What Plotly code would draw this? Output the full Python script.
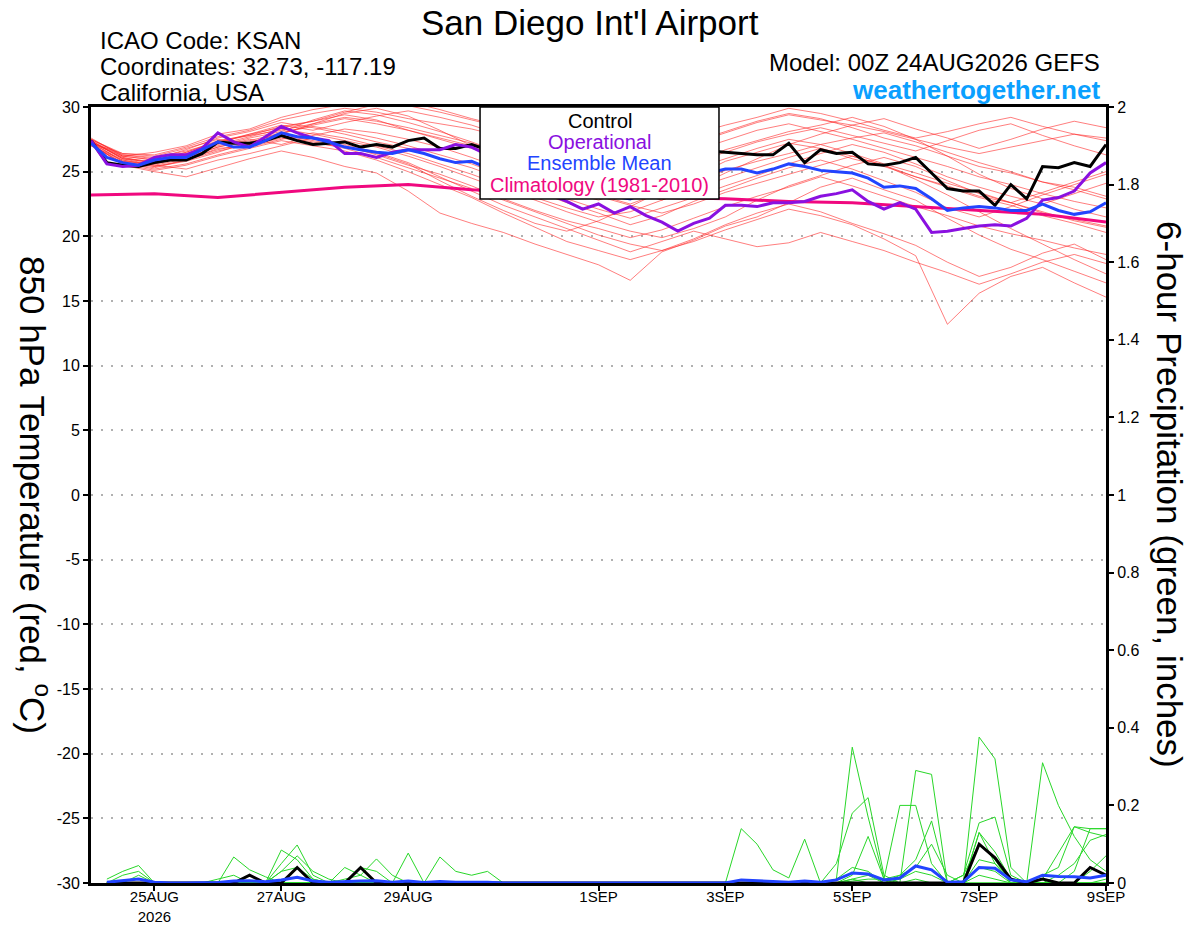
import pandas as pd
import plotly.graph_objects as go

FONT = "Liberation Sans"

# time axes
t6 = pd.date_range("2026-08-24 00:00", periods=65, freq="6h")      # temperature, 6-hourly
t12 = pd.date_range("2026-08-24 00:00", periods=33, freq="12h")    # ensemble members, 12-hourly
tp = pd.date_range("2026-08-24 06:00", periods=64, freq="6h")      # 6-hour precip
tclim = pd.date_range("2026-08-24 00:00", periods=17, freq="D")    # climatology, daily

tick_dates = ["2026-08-25", "2026-08-27", "2026-08-29", "2026-09-01",
              "2026-09-03", "2026-09-05", "2026-09-07", "2026-09-09"]
tick_labels = ["25AUG<br>2026", "27AUG", "29AUG", "1SEP", "3SEP", "5SEP", "7SEP", "9SEP"]

# 850 hPa temperature (C)
control_t = [27.4, 25.7, 25.5, 25.4, 25.7, 25.9, 25.9, 26.4, 27.3, 27.2, 27.2, 27.4, 27.8,
             27.4, 27.1, 27.2, 27.3, 26.9, 27.1, 26.9, 27.4, 27.6, 26.8, 26.8, 27.1, 26.7,
             26.9, 27.0, 27.2, 26.8, 26.6, 26.9, 27.1, 26.7, 26.4, 26.6, 26.8, 26.5, 26.7, 26.6,
             26.5, 26.4, 26.3, 26.3, 27.2, 25.7, 26.7, 26.4, 26.5, 25.6, 25.5, 25.7, 26.1,
             24.9, 23.7, 23.5, 23.5, 22.4, 24.0, 22.9, 25.4, 25.3, 25.7, 25.4, 27.1]
oper_t = [27.4, 25.6, 25.4, 25.5, 26.1, 26.3, 26.3, 26.8, 28.0, 27.3, 26.9, 27.7, 28.5,
          28.0, 27.6, 27.4, 26.4, 26.4, 26.1, 26.5, 26.7, 26.7, 26.7, 27.1, 26.9, 26.3,
          25.5, 24.6, 23.8, 23.2, 22.7, 22.1, 22.5, 21.8, 22.3, 21.6, 21.1, 20.4, 21.0, 21.4,
          22.4, 22.4, 22.3, 22.6, 22.6, 22.7, 23.1, 23.3, 23.6, 22.7, 22.1, 22.6, 22.1,
          20.3, 20.4, 20.6, 20.8, 20.9, 20.8, 21.4, 22.8, 23.0, 23.5, 24.9, 25.7]
mean_t = [27.2, 26.1, 25.7, 25.5, 25.9, 26.1, 26.1, 26.7, 27.3, 26.9, 26.9, 27.4, 28.0,
          27.7, 27.6, 27.3, 26.9, 26.7, 26.5, 26.4, 26.7, 26.4, 26.0, 25.7, 25.8, 25.3,
          24.8, 24.5, 24.2, 24.0, 23.8, 23.5, 23.3, 23.1, 22.9, 23.4, 23.9, 24.3, 24.6, 24.9,
          25.2, 25.2, 24.9, 25.2, 25.6, 25.4, 25.1, 25.0, 24.9, 24.5, 23.8, 23.9, 23.7,
          22.9, 22.0, 22.2, 22.3, 22.2, 22.0, 22.0, 22.5, 22.0, 21.7, 21.9, 22.6]
clim_t = [23.2, 23.3, 23.0, 23.4, 23.8, 24.0, 23.6, 23.4, 23.2, 23.0, 22.9, 22.7, 22.6,
          22.3, 22.0, 21.7, 21.1]

members_t = [
    [27.3, 26.0, 25.8, 26.5, 27.4, 27.8, 28.5, 28.9, 29.4, 29.0, 28.2, 27.5, 26.8, 26.0, 24.8, 23.9, 23.2,
     22.5, 23.4, 24.6, 25.8, 26.5, 27.2, 26.8, 26.0, 25.4, 24.6, 23.8, 23.0, 22.4, 21.6, 21.0, 20.3],
    [27.1, 25.7, 25.3, 25.9, 26.8, 27.0, 27.6, 27.2, 26.9, 26.4, 25.6, 24.3, 23.1, 22.0, 21.0, 20.4, 21.2,
     22.3, 23.5, 24.2, 25.1, 25.8, 26.4, 27.1, 27.6, 28.0, 27.3, 26.5, 25.7, 25.0, 24.2, 23.6, 22.9],
    [27.4, 26.2, 26.5, 27.0, 27.9, 28.3, 29.2, 29.8, 30.2, 30.5, 30.1, 29.6, 29.0, 28.4, 27.9, 27.2, 26.5,
     25.8, 26.4, 27.3, 28.1, 28.9, 29.5, 29.1, 28.4, 27.6, 27.0, 26.2, 25.4, 24.9, 24.2, 23.8, 23.1],
    [27.2, 25.5, 25.0, 24.6, 25.3, 26.0, 26.6, 26.1, 25.4, 24.9, 23.5, 21.8, 21.0, 20.3, 19.4, 18.6, 17.8,
     16.6, 18.8, 19.7, 20.8, 21.5, 22.6, 23.8, 24.5, 23.6, 22.8, 21.4, 20.1, 19.0, 18.2, 17.3, 16.4],
    [27.3, 26.1, 25.6, 26.1, 26.9, 27.5, 27.1, 27.8, 28.3, 28.0, 27.5, 26.9, 26.1, 25.2, 24.3, 23.5, 22.8,
     23.6, 24.5, 25.6, 26.7, 27.4, 28.1, 28.6, 29.2, 28.5, 27.5, 26.2, 24.8, 23.7, 22.9, 22.1, 21.5],
    [27.5, 26.3, 26.0, 26.7, 27.6, 28.1, 28.8, 28.4, 27.9, 27.3, 26.8, 26.0, 25.3, 24.4, 23.5, 22.6, 21.8,
     20.9, 21.6, 22.7, 23.6, 24.5, 25.3, 25.9, 25.2, 24.3, 23.4, 22.2, 21.5, 22.3, 23.2, 24.0, 24.8],
    [27.0, 25.9, 25.4, 25.8, 26.5, 27.3, 27.9, 28.7, 29.5, 29.9, 29.3, 28.2, 27.0, 25.8, 24.7, 23.8, 23.1,
     22.4, 21.8, 22.5, 23.4, 24.1, 24.8, 25.5, 26.2, 25.5, 24.6, 23.9, 23.1, 22.6, 23.4, 24.2, 25.0],
    [27.4, 26.0, 25.5, 25.2, 25.9, 26.4, 27.0, 27.6, 27.1, 26.5, 25.7, 24.6, 23.5, 22.4, 21.5, 20.6, 19.7,
     18.8, 19.6, 20.4, 19.8, 19.2, 19.5, 20.3, 19.6, 18.9, 18.0, 17.2, 16.3, 17.1, 18.0, 18.6, 17.9],
    [27.2, 26.4, 26.2, 26.8, 27.5, 27.2, 28.0, 28.6, 29.1, 28.7, 28.2, 27.6, 27.0, 26.5, 26.0, 25.3, 24.7,
     24.1, 24.8, 25.7, 26.5, 27.3, 27.9, 28.4, 27.8, 27.2, 26.6, 27.4, 28.2, 28.7, 27.8, 27.0, 26.3],
    [27.3, 25.8, 25.6, 26.2, 27.1, 27.7, 28.3, 27.9, 27.4, 26.9, 26.2, 25.4, 24.5, 23.6, 22.8, 21.9, 21.1,
     20.4, 19.9, 20.6, 21.5, 22.8, 23.9, 24.7, 25.5, 26.1, 25.4, 24.3, 23.3, 22.6, 21.9, 21.2, 20.7],
    [27.6, 26.2, 25.9, 26.3, 27.0, 27.6, 28.1, 29.0, 29.7, 29.4, 28.8, 28.1, 27.3, 26.4, 25.6, 24.8, 24.1,
     23.5, 22.8, 23.7, 24.9, 26.0, 27.1, 27.9, 28.6, 29.1, 28.3, 27.6, 26.8, 27.5, 28.3, 28.9, 28.4],
    [27.1, 25.6, 25.1, 25.5, 26.2, 26.8, 27.4, 27.0, 26.6, 25.9, 25.0, 24.0, 23.0, 21.8, 20.7, 19.6, 18.9,
     18.2, 18.9, 19.8, 20.9, 21.8, 22.5, 21.9, 21.0, 20.2, 19.3, 18.0, 16.9, 17.6, 18.7, 19.4, 18.2],
    [27.3, 26.1, 25.7, 26.4, 27.2, 27.9, 28.6, 28.2, 28.8, 29.3, 29.7, 29.2, 28.6, 27.8, 27.1, 26.5, 25.9,
     25.2, 25.8, 26.6, 27.4, 28.2, 28.7, 28.1, 27.5, 26.8, 26.1, 25.4, 24.6, 24.0, 23.3, 22.7, 22.2],
    [27.2, 25.9, 25.5, 26.0, 26.7, 27.2, 27.8, 27.4, 27.0, 26.3, 25.5, 24.8, 23.9, 22.9, 22.0, 21.2, 20.6,
     19.9, 20.5, 21.4, 22.3, 23.1, 23.8, 24.6, 23.9, 23.1, 22.3, 21.6, 20.8, 20.2, 19.7, 19.1, 18.6],
    [27.5, 26.3, 26.1, 26.6, 27.3, 27.9, 28.4, 28.9, 29.6, 30.2, 30.4, 29.8, 29.1, 28.5, 28.9, 29.3, 28.7,
     28.0, 27.4, 27.9, 28.6, 29.2, 29.9, 29.5, 28.9, 28.2, 27.6, 28.1, 28.7, 29.2, 28.5, 27.9, 27.4],
    [27.0, 25.7, 25.2, 25.6, 26.3, 26.9, 27.5, 28.0, 27.6, 27.0, 26.4, 25.6, 24.8, 23.9, 23.0, 22.2, 21.5,
     21.9, 22.8, 23.7, 24.5, 25.3, 26.1, 26.8, 26.2, 25.5, 24.4, 23.2, 21.9, 20.6, 19.4, 18.2, 17.1],
    [27.4, 26.0, 25.7, 26.1, 26.9, 27.4, 28.0, 28.5, 28.1, 27.6, 27.0, 26.3, 25.6, 24.7, 23.8, 22.9, 22.1,
     21.4, 22.2, 23.0, 23.9, 24.7, 25.6, 26.4, 27.1, 26.5, 25.6, 24.6, 23.8, 23.1, 22.5, 23.3, 24.1],
    [27.3, 26.2, 25.9, 26.5, 27.3, 27.8, 28.2, 28.7, 29.2, 28.9, 28.4, 27.8, 27.2, 26.4, 25.6, 24.9, 24.2,
     23.7, 24.3, 25.2, 26.0, 26.8, 27.5, 27.1, 26.4, 25.6, 24.9, 24.1, 23.4, 22.6, 21.8, 21.3, 20.8],
    [27.2, 25.8, 25.4, 25.9, 26.6, 27.1, 27.7, 27.3, 26.8, 26.1, 25.3, 24.5, 23.7, 22.8, 21.9, 21.0, 20.1,
     19.4, 18.9, 19.6, 20.5, 21.3, 22.1, 21.6, 20.9, 19.8, 18.5, 13.2, 15.6, 16.9, 17.6, 16.4, 15.3],
    [27.5, 26.4, 26.3, 26.9, 27.7, 28.2, 29.0, 29.5, 29.9, 29.6, 29.1, 28.7, 28.3, 27.7, 27.1, 26.6, 26.2,
     25.7, 26.5, 27.2, 28.0, 28.8, 29.4, 29.0, 28.6, 28.1, 27.5, 26.9, 26.4, 26.9, 27.4, 27.9, 27.6],
]

# 6-hour precipitation (inches)
control_p = [0, 0, 0, 0, 0, 0, 0, 0,
             0, 0.02, 0, 0, 0.04, 0, 0, 0,
             0.04, 0, 0, 0, 0, 0, 0, 0,
             0, 0, 0, 0, 0, 0, 0, 0,
             0, 0, 0, 0, 0, 0, 0, 0,
             0, 0, 0, 0, 0, 0, 0, 0,
             0, 0, 0, 0, 0, 0, 0, 0.10,
             0.065, 0.01, 0, 0.01, 0, 0, 0.04, 0.02]
mean_p = [0.002, 0.006, 0.01, 0.002, 0, 0, 0, 0.001,
          0.005, 0.006, 0.003, 0.008, 0.015, 0.005, 0.002, 0.004,
          0.005, 0.006, 0.002, 0.005, 0.001, 0.004, 0.002, 0.002,
          0.002, 0, 0, 0, 0, 0, 0, 0,
          0, 0, 0, 0, 0, 0, 0, 0,
          0.008, 0.006, 0.003, 0.002, 0.005, 0.002, 0.008, 0.026,
          0.023, 0.008, 0.013, 0.044, 0.034, 0.002, 0.003, 0.04,
          0.038, 0.008, 0.003, 0.02, 0.017, 0.016, 0.013, 0.02]
members_p = [
    [0.01, 0.03, 0.045, 0, 0, 0, 0, 0,
     0.067, 0.034, 0.016, 0, 0, 0, 0, 0.04,
     0.02, 0, 0, 0, 0, 0, 0, 0,
     0, 0, 0, 0, 0, 0, 0, 0,
     0, 0, 0, 0, 0, 0, 0, 0,
     0.14, 0.10, 0.034, 0.013, 0.113, 0, 0, 0.01,
     0, 0, 0, 0, 0, 0, 0, 0,
     0, 0, 0, 0.01, 0.077, 0.145, 0.13, 0.12],
    [0, 0.02, 0.03, 0, 0, 0, 0, 0,
     0, 0, 0, 0.085, 0.06, 0.01, 0, 0,
     0, 0, 0, 0, 0, 0, 0, 0,
     0, 0, 0, 0, 0, 0, 0, 0,
     0, 0, 0, 0, 0, 0, 0, 0,
     0, 0, 0, 0, 0, 0, 0.01, 0.35,
     0.17, 0.01, 0, 0.01, 0, 0, 0, 0,
     0, 0, 0, 0, 0, 0.03, 0.14, 0.14],
    [0, 0, 0.02, 0, 0, 0, 0, 0,
     0, 0, 0, 0.05, 0.098, 0.02, 0, 0,
     0, 0, 0, 0, 0, 0, 0, 0,
     0, 0, 0, 0, 0, 0, 0, 0,
     0, 0, 0, 0, 0, 0, 0, 0,
     0, 0, 0, 0, 0, 0, 0.05, 0.18,
     0.22, 0.02, 0, 0, 0, 0, 0.02, 0.155,
     0.17, 0.02, 0, 0, 0, 0, 0, 0.01],
    [0, 0, 0, 0, 0, 0, 0, 0.01,
     0.02, 0, 0, 0.03, 0.07, 0.03, 0.01, 0,
     0.04, 0.03, 0, 0, 0, 0, 0, 0,
     0, 0, 0, 0, 0, 0, 0, 0,
     0, 0, 0, 0, 0, 0, 0, 0,
     0, 0, 0, 0, 0, 0, 0, 0.02,
     0.12, 0.01, 0.2, 0.2, 0.05, 0, 0, 0.13,
     0.08, 0.01, 0, 0, 0, 0, 0, 0],
    [0, 0, 0, 0, 0, 0, 0, 0,
     0, 0.02, 0, 0.03, 0.04, 0.01, 0, 0.01,
     0.02, 0.062, 0.02, 0, 0, 0, 0, 0,
     0, 0, 0, 0, 0, 0, 0, 0,
     0, 0, 0, 0, 0, 0, 0, 0,
     0, 0, 0, 0, 0, 0, 0, 0,
     0, 0, 0, 0.29, 0.28, 0, 0, 0.02,
     0.01, 0, 0, 0, 0, 0, 0, 0],
    [0, 0, 0, 0, 0, 0, 0, 0,
     0, 0, 0, 0, 0, 0, 0, 0,
     0, 0, 0, 0.077, 0, 0, 0, 0,
     0, 0, 0, 0, 0, 0, 0, 0,
     0, 0, 0, 0, 0, 0, 0, 0,
     0, 0, 0, 0, 0, 0, 0.01, 0.04,
     0.03, 0, 0.02, 0.06, 0.16, 0, 0, 0.13,
     0.05, 0, 0, 0, 0, 0, 0.03, 0.07],
    [0, 0, 0, 0, 0, 0, 0, 0,
     0, 0, 0, 0, 0, 0, 0, 0,
     0, 0, 0, 0, 0, 0.067, 0.03, 0.02,
     0.03, 0, 0, 0, 0, 0, 0, 0,
     0, 0, 0, 0, 0, 0, 0, 0,
     0, 0, 0, 0, 0, 0, 0, 0,
     0, 0, 0, 0, 0, 0, 0, 0.376,
     0.32, 0.04, 0, 0, 0, 0, 0, 0],
    [0, 0, 0, 0, 0, 0, 0, 0,
     0, 0, 0, 0, 0, 0, 0, 0,
     0, 0, 0, 0, 0, 0, 0, 0,
     0, 0, 0, 0, 0, 0, 0, 0,
     0, 0, 0, 0, 0, 0, 0, 0,
     0, 0, 0, 0, 0, 0, 0, 0,
     0, 0, 0, 0, 0, 0, 0.02, 0.1,
     0.06, 0, 0, 0.31, 0.2, 0.12, 0.06, 0.03],
    [0, 0, 0, 0, 0, 0, 0, 0,
     0, 0, 0, 0, 0, 0, 0, 0,
     0, 0, 0, 0, 0, 0, 0, 0,
     0, 0, 0, 0, 0, 0, 0, 0,
     0, 0, 0, 0, 0, 0, 0, 0,
     0, 0, 0, 0, 0, 0, 0, 0.01,
     0.02, 0, 0.01, 0.03, 0.02, 0, 0, 0.04,
     0.03, 0, 0, 0.02, 0.04, 0.145, 0.14, 0.14],
    [0, 0, 0, 0, 0, 0, 0, 0,
     0, 0, 0, 0, 0, 0, 0, 0,
     0, 0, 0, 0, 0, 0, 0, 0,
     0, 0, 0, 0, 0, 0, 0, 0,
     0, 0, 0, 0, 0, 0, 0, 0,
     0, 0, 0, 0, 0, 0, 0, 0.005,
     0.01, 0.01, 0.02, 0.04, 0.1, 0.02, 0, 0.06,
     0.05, 0.01, 0, 0, 0.02, 0.05, 0.11, 0.125],
]

RED = "rgba(255,40,40,0.6)"
GREEN = "rgb(40,215,40)"
PURPLE = "#8a10e0"
BLUE = "#2244ff"
PINK = "#f0087f"

fig = go.Figure()

for m in members_t:
    fig.add_trace(go.Scatter(x=t12, y=m, mode="lines", line=dict(color=RED, width=1)))
for m in members_p:
    fig.add_trace(go.Scatter(x=tp, y=m, yaxis="y2", mode="lines", line=dict(color=GREEN, width=1)))

fig.add_trace(go.Scatter(x=tclim, y=clim_t, mode="lines", line=dict(color=PINK, width=3)))
fig.add_trace(go.Scatter(x=t6, y=control_t, mode="lines", line=dict(color="black", width=3)))
fig.add_trace(go.Scatter(x=t6, y=oper_t, mode="lines", line=dict(color=PURPLE, width=3)))
fig.add_trace(go.Scatter(x=t6, y=mean_t, mode="lines", line=dict(color=BLUE, width=3)))
fig.add_trace(go.Scatter(x=tp, y=control_p, yaxis="y2", mode="lines", line=dict(color="black", width=3)))
fig.add_trace(go.Scatter(x=tp, y=mean_p, yaxis="y2", mode="lines", line=dict(color=BLUE, width=3)))

left_vals = list(range(-30, 31, 5))
right_vals = [0, 0.2, 0.4, 0.6, 0.8, 1, 1.2, 1.4, 1.6, 1.8, 2]

# the page puts the figure 8px in from the top-left corner, margins allow for it
fig.update_layout(
    width=1200, height=927,
    margin=dict(l=83, r=102, t=99, b=52),
    paper_bgcolor="white", plot_bgcolor="white",
    showlegend=False,
    font=dict(family=FONT, color="black", size=16),
    xaxis=dict(type="date", range=["2026-08-24", "2026-09-09"],
               tickvals=tick_dates, ticktext=tick_labels, automargin=False,
               ticks="outside", ticklen=5, tickwidth=1.5, tickcolor="black",
               ticklabelstandoff=-7,
               showline=True, linewidth=3, linecolor="black", mirror=True,
               showgrid=False, zeroline=False, tickfont=dict(size=15)),
    yaxis=dict(range=[-30, 30], tickvals=left_vals, ticktext=[str(v) for v in left_vals],
               automargin=False,
               ticks="outside", ticklen=5, tickwidth=1.5, tickcolor="black",
               showline=True, linewidth=3, linecolor="black",
               showgrid=True, gridcolor="#b0b0b0", griddash="2px,8px", gridwidth=1.5,
               zeroline=False, tickfont=dict(size=16)),
    yaxis2=dict(range=[0, 2], overlaying="y", side="right", automargin=False,
                tickvals=right_vals, ticktext=[f"{v:g}" for v in right_vals],
                ticks="outside", ticklen=5, tickwidth=1.5, tickcolor="black",
                showline=True, linewidth=3, linecolor="black",
                showgrid=False, zeroline=False, tickfont=dict(size=16)),
)

# legend box
fig.add_shape(type="rect", xref="paper", yref="paper", x0=0.3833, x1=0.6187, y0=0.8814, y1=1.0,
              fillcolor="white", line=dict(color="black", width=1.5), layer="above")
legend_items = [("Control", "black", 0.982), ("Operational", PURPLE, 0.9549),
                ("Ensemble Mean", BLUE, 0.9278), ("Climatology (1981-2010)", PINK, 0.8995)]
for label, col, yy in legend_items:
    fig.add_annotation(text=label, xref="paper", yref="paper", x=0.501, y=yy,
                       showarrow=False, font=dict(size=20, color=col), xanchor="center", yanchor="middle")

# header text
fig.add_annotation(text="San Diego Int'l Airport", xref="paper", yref="paper", x=0.4916, y=1.1085,
                   showarrow=False, font=dict(size=35), xanchor="center", yanchor="middle")
for txt, yy in [("ICAO Code: KSAN", 1.0863), ("Coordinates: 32.73, -117.19", 1.0528),
                ("California, USA", 1.0193)]:
    fig.add_annotation(text=txt, xref="paper", yref="paper", x=0.0069, y=yy,
                       showarrow=False, font=dict(size=24), xanchor="left", yanchor="middle")
fig.add_annotation(text="Model: 00Z 24AUG2026 GEFS", xref="paper", yref="paper", x=0.9961, y=1.0575,
                   showarrow=False, font=dict(size=24), xanchor="right", yanchor="middle")
fig.add_annotation(text="<b>weathertogether.net</b>", xref="paper", yref="paper", x=0.9961, y=1.0225,
                   showarrow=False, font=dict(size=26, color="#0aa0ff"), xanchor="right", yanchor="middle")

# axis titles
fig.add_annotation(text="850 hPa Temperature (red, <sup>o</sup>C)", xref="paper", yref="paper",
                   x=-0.0552, y=0.5, textangle=90, showarrow=False, font=dict(size=35),
                   xanchor="center", yanchor="middle")
fig.add_annotation(text="6-hour Precipitation (green, inches)", xref="paper", yref="paper",
                   x=1.063, y=0.5, textangle=90, showarrow=False, font=dict(size=35),
                   xanchor="center", yanchor="middle")

fig.write_html("out.html")
